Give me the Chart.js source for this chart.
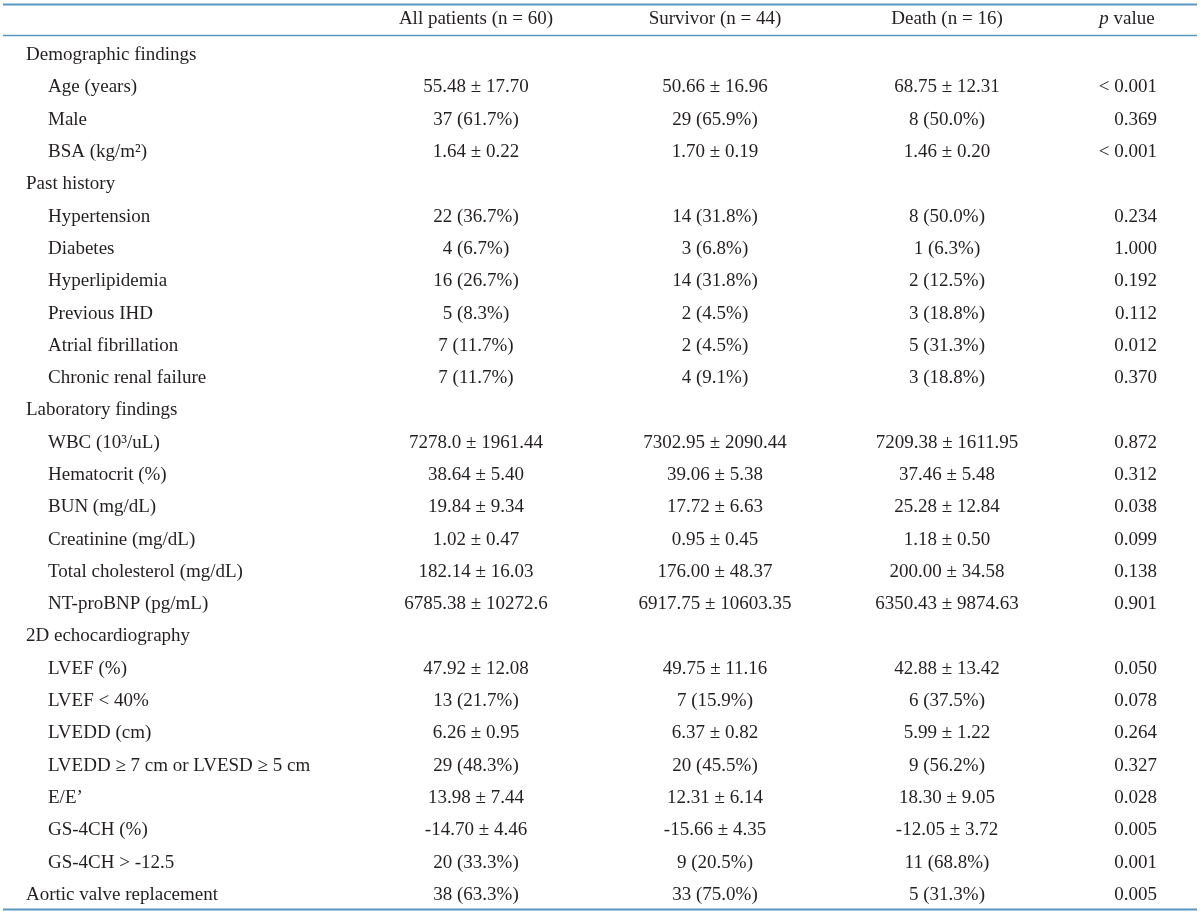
<!DOCTYPE html>
<html>
<head>
<meta charset="utf-8">
<script src="https://cdn.jsdelivr.net/npm/chart.js@4.4.1/dist/chart.umd.min.js"></script>
<style>
  html, body { margin: 0; padding: 0; background: #fff; }
  #wrap { width: 1200px; height: 915px; position: relative; }
</style>
</head>
<body>
<div id="wrap"><canvas id="myChart"></canvas></div>
<script>
// table content
const headers = ['', 'All patients (n = 60)', 'Survivor (n = 44)', 'Death (n = 16)', 'p value'];

const rowLabels = [
  'Demographic findings', 'Age (years)', 'Male', 'BSA (kg/m\u00b2)',
  'Past history', 'Hypertension', 'Diabetes', 'Hyperlipidemia', 'Previous IHD',
  'Atrial fibrillation', 'Chronic renal failure',
  'Laboratory findings', 'WBC (10\u00b3/uL)', 'Hematocrit (%)', 'BUN (mg/dL)',
  'Creatinine (mg/dL)', 'Total cholesterol (mg/dL)', 'NT-proBNP (pg/mL)',
  '2D echocardiography', 'LVEF (%)', 'LVEF < 40%', 'LVEDD (cm)',
  'LVEDD \u2265 7 cm or LVESD \u2265 5 cm', 'E/E\u2019', 'GS-4CH (%)', 'GS-4CH > -12.5',
  'Aortic valve replacement'
];

const groupRows = ['Demographic findings', 'Past history', 'Laboratory findings',
  '2D echocardiography', 'Aortic valve replacement'];

const allPatients = [
  '', '55.48 \u00b1 17.70', '37 (61.7%)', '1.64 \u00b1 0.22',
  '', '22 (36.7%)', '4 (6.7%)', '16 (26.7%)', '5 (8.3%)', '7 (11.7%)', '7 (11.7%)',
  '', '7278.0 \u00b1 1961.44', '38.64 \u00b1 5.40', '19.84 \u00b1 9.34', '1.02 \u00b1 0.47',
  '182.14 \u00b1 16.03', '6785.38 \u00b1 10272.6',
  '', '47.92 \u00b1 12.08', '13 (21.7%)', '6.26 \u00b1 0.95', '29 (48.3%)', '13.98 \u00b1 7.44',
  '-14.70 \u00b1 4.46', '20 (33.3%)',
  '38 (63.3%)'
];

const survivor = [
  '', '50.66 \u00b1 16.96', '29 (65.9%)', '1.70 \u00b1 0.19',
  '', '14 (31.8%)', '3 (6.8%)', '14 (31.8%)', '2 (4.5%)', '2 (4.5%)', '4 (9.1%)',
  '', '7302.95 \u00b1 2090.44', '39.06 \u00b1 5.38', '17.72 \u00b1 6.63', '0.95 \u00b1 0.45',
  '176.00 \u00b1 48.37', '6917.75 \u00b1 10603.35',
  '', '49.75 \u00b1 11.16', '7 (15.9%)', '6.37 \u00b1 0.82', '20 (45.5%)', '12.31 \u00b1 6.14',
  '-15.66 \u00b1 4.35', '9 (20.5%)',
  '33 (75.0%)'
];

const death = [
  '', '68.75 \u00b1 12.31', '8 (50.0%)', '1.46 \u00b1 0.20',
  '', '8 (50.0%)', '1 (6.3%)', '2 (12.5%)', '3 (18.8%)', '5 (31.3%)', '3 (18.8%)',
  '', '7209.38 \u00b1 1611.95', '37.46 \u00b1 5.48', '25.28 \u00b1 12.84', '1.18 \u00b1 0.50',
  '200.00 \u00b1 34.58', '6350.43 \u00b1 9874.63',
  '', '42.88 \u00b1 13.42', '6 (37.5%)', '5.99 \u00b1 1.22', '9 (56.2%)', '18.30 \u00b1 9.05',
  '-12.05 \u00b1 3.72', '11 (68.8%)',
  '5 (31.3%)'
];

const pValues = [
  '', '< 0.001', '0.369', '< 0.001',
  '', '0.234', '1.000', '0.192', '0.112', '0.012', '0.370',
  '', '0.872', '0.312', '0.038', '0.099', '0.138', '0.901',
  '', '0.050', '0.078', '0.264', '0.327', '0.028', '0.005', '0.001',
  '0.005'
];

// column anchors on the x scale
const colX = { group: 26, item: 48, all: 476, survivor: 715, death: 947, p: 1157, pHead: 1127 };

const FONT = '19px "Liberation Serif", "Times New Roman", serif';
const ITALIC = 'italic 19px "Liberation Serif", "Times New Roman", serif';
const INK = '#231f20';
const RULE = '#5a97c0';

const tablePlugin = {
  id: 'tablePlugin',
  afterDraw(chart) {
    const ctx = chart.ctx;
    const x = chart.scales.x;
    const y = chart.scales.y;
    const left = x.getPixelForValue(3), right = x.getPixelForValue(1197);

    ctx.save();
    // rules
    ctx.strokeStyle = RULE;
    ctx.lineWidth = 2;
    ctx.beginPath(); ctx.moveTo(left, 4.5); ctx.lineTo(right, 4.5); ctx.stroke();
    ctx.lineWidth = 1.6;
    ctx.beginPath(); ctx.moveTo(left, chart.chartArea.top - 3.5); ctx.lineTo(right, chart.chartArea.top - 3.5); ctx.stroke();
    ctx.lineWidth = 2;
    ctx.beginPath(); ctx.moveTo(left, chart.chartArea.bottom - 1.5); ctx.lineTo(right, chart.chartArea.bottom - 1.5); ctx.stroke();

    ctx.fillStyle = INK;
    ctx.textBaseline = 'middle';
    ctx.font = FONT;

    // header
    const hy = 19;
    ctx.textAlign = 'center';
    ctx.fillText(headers[1], x.getPixelForValue(colX.all), hy);
    ctx.fillText(headers[2], x.getPixelForValue(colX.survivor), hy);
    ctx.fillText(headers[3], x.getPixelForValue(colX.death), hy);
    // "p value" with italic p
    ctx.font = ITALIC;
    const pw = ctx.measureText('p').width;
    ctx.font = FONT;
    const vw = ctx.measureText(' value').width;
    const hx = x.getPixelForValue(colX.pHead) - (pw + vw) / 2;
    ctx.textAlign = 'left';
    ctx.font = ITALIC;
    ctx.fillText('p', hx, hy);
    ctx.font = FONT;
    ctx.fillText(' value', hx + pw, hy);

    // body rows
    rowLabels.forEach((label, i) => {
      const py = y.getPixelForValue(i);
      const isGroup = groupRows.includes(label);
      ctx.textAlign = 'left';
      ctx.fillText(label, x.getPixelForValue(isGroup ? colX.group : colX.item), py);
      ctx.textAlign = 'center';
      ctx.fillText(allPatients[i], x.getPixelForValue(colX.all), py);
      ctx.fillText(survivor[i], x.getPixelForValue(colX.survivor), py);
      ctx.fillText(death[i], x.getPixelForValue(colX.death), py);
      ctx.textAlign = 'right';
      ctx.fillText(pValues[i], x.getPixelForValue(colX.p), py);
    });
    ctx.restore();
  }
};

const canva = document.getElementById('myChart');
const myChart = new Chart(canva, {
  type: 'scatter',
  data: { datasets: [] },
  options: {
    responsive: true,
    maintainAspectRatio: false,
    animation: false,
    layout: { padding: { top: 39, bottom: 4, left: 0, right: 0 } },
    plugins: { legend: { display: false }, tooltip: { enabled: false } },
    scales: {
      x: { type: 'linear', min: 0, max: 1200, display: false },
      y: { type: 'category', labels: rowLabels, offset: true, display: false }
    }
  },
  plugins: [tablePlugin]
});
</script>
</body>
</html>
